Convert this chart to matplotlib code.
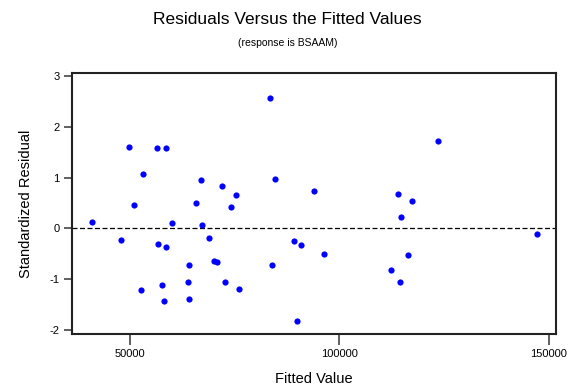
import numpy as np
from matplotlib import pyplot as plt

plt.rcParams['font.family'] = ['Liberation Sans', 'DejaVu Sans']
plt.rcParams['axes.unicode_minus'] = False

fitted = [40926, 47779, 49761, 50955, 52698, 53104, 56376, 56615, 57642, 58048,
          58597, 58525, 60030, 63779, 64018, 64089, 65689, 66883, 67265, 68937,
          70131, 70776, 71898, 72614, 74119, 75241, 75958, 83432, 83838, 84698,
          89164, 89952, 90764, 93868, 96256, 112328, 114000, 114406, 114788,
          116316, 117343, 123480, 147121]
std_resid = [0.126, -0.234, 1.606, 0.455, -1.213, 1.077, 1.589, -0.301, -1.114, -1.437,
             1.589, -0.372, 0.106, -1.049, -1.396, -0.720, 0.494, 0.947, 0.073, -0.183,
             -0.636, -0.661, 0.835, -1.049, 0.427, 0.663, -1.193, 2.573, -0.720, 0.978,
             -0.248, -1.823, -0.333, 0.730, -0.498, -0.813, 0.683, -1.049, 0.224,
             -0.524, 0.539, 1.715, -0.110]
xticks = [50000, 100000, 150000]
yticks = [-2, -1, 0, 1, 2, 3]

fig = plt.figure(figsize=(5.75, 3.85), dpi=100)
ax = fig.add_axes([0.1252, 0.1325, 0.842, 0.678])

ax.scatter(fitted, std_resid, s=20, color='#0000ff', marker='o', linewidths=0, zorder=3)
ax.axhline(0, color='black', lw=0.9, ls=(0, (4, 2)), zorder=2)

ax.set_xlim(36150, 151730)
ax.set_ylim(-2.079, 3.059)
ax.set_xticks(xticks)
ax.set_xticklabels([str(t) for t in xticks])
ax.set_yticks(yticks)
ax.tick_params(axis='x', direction='out', length=8, width=1.2, labelsize=8, pad=3, color='#444444')
ax.tick_params(axis='y', direction='out', length=6, width=1.2, labelsize=8, pad=3, color='#444444')
for sp in ax.spines.values():
    sp.set_linewidth(1.5)
    sp.set_color('#222222')

ax.set_xlabel('Fitted Value', fontsize=10.5, labelpad=9)
ax.set_ylabel('Standardized Residual', fontsize=10.5, labelpad=12)

fig.text(0.5, 0.95, 'Residuals Versus the Fitted Values', ha='center', va='center', fontsize=12.5)
fig.text(0.5, 0.888, '(response is BSAAM)', ha='center', va='center', fontsize=7.5)

fig.savefig('out.png', dpi=100)
